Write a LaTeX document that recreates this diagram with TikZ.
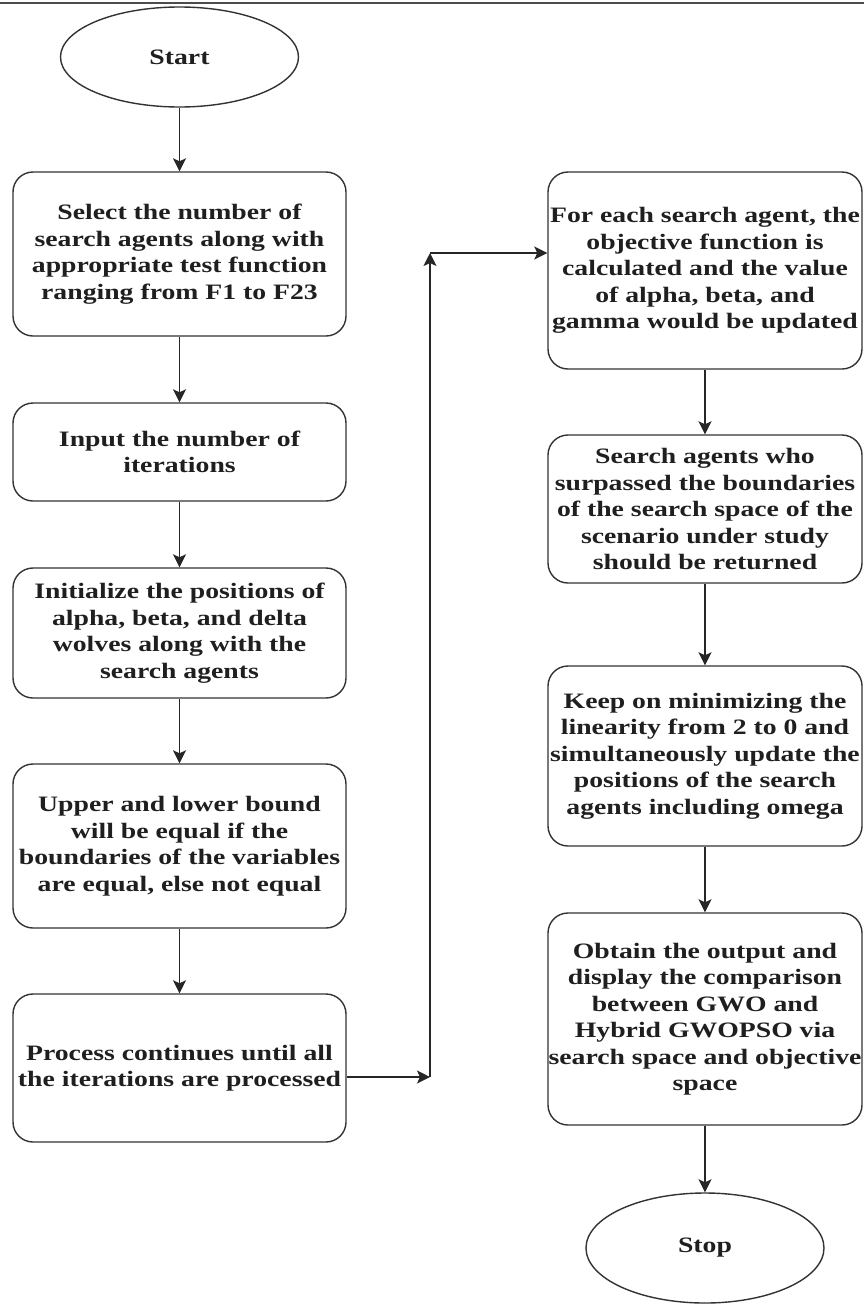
\documentclass[tikz,border=0pt]{standalone}
\usepackage{fontspec}
\setmainfont[FakeStretch=1.26]{Liberation Serif}
\usetikzlibrary{shapes.geometric,arrows.meta}
\begin{document}
\begin{tikzpicture}[x=1pt,y=-1pt,
    every node/.style={font=\fontsize{22}{26.5}\selectfont\bfseries,
      text=black!88, align=center, inner sep=0pt},
    stepbox/.style={draw=black!80, line width=1.4pt, rounded corners=20pt},
    leftbox/.style={stepbox, minimum width=333pt},
    rightbox/.style={stepbox, minimum width=314pt},
    terminal/.style={draw=black!80, line width=1.4pt, ellipse,
      minimum width=238pt, minimum height=#1},
    flow/.style={line width=1.6pt, black!85,
      -{Stealth[length=13pt,width=13pt,inset=3pt]}}]
  \useasboundingbox (0,0) rectangle (864,1304);
  \draw[line width=2pt, black!70] (0,3) -- (864,3);
  \draw
    (179.5,57) node[terminal=100pt] (start){Start}
    (179.5,254) node[leftbox, minimum height=164pt] (1){Select the number of\\
      search agents along with\\ appropriate test function\\ ranging from F1 to F23}
    (179.5,452) node[leftbox, minimum height=98pt] (2){Input the number of\\ iterations}
    (179.5,633) node[leftbox, minimum height=130pt] (3){Initialize the positions of\\
      alpha, beta, and delta\\ wolves along with the\\ search agents}
    (179.5,846) node[leftbox, minimum height=164pt] (4){Upper and lower bound\\
      will be equal if the\\ boundaries of the variables\\ are equal, else not equal}
    (179.5,1068) node[leftbox, minimum height=148pt] (5){Process continues until all\\
      the iterations are processed}
    (705,270.5) node[rightbox, minimum height=197pt] (6){For each search agent, the\\
      objective function is\\ calculated and the value\\ of alpha, beta, and\\
      gamma would be updated}
    (705,509) node[rightbox, minimum height=148pt] (7){Search agents who\\
      surpassed the boundaries\\ of the search space of the\\ scenario under study\\
      should be returned}
    (705,756) node[rightbox, minimum height=180pt] (8){Keep on minimizing the\\
      linearity from 2 to 0 and\\ simultaneously update the\\ positions of the search\\
      agents including omega}
    (705,1019) node[rightbox, minimum height=212pt] (9){Obtain the output and\\
      display the comparison\\ between GWO and\\ Hybrid GWOPSO via\\
      search space and objective\\ space}
    (705,1248) node[terminal=110pt] (stop){Stop};
  \coordinate (low) at (430,1077);
  \coordinate (high) at (430,253);
  \begin{scope}[flow]
    \draw (start) to (1);
    \draw (1) to (2);
    \draw (2) to (3);
    \draw (3) to (4);
    \draw (4) to (5);
    \draw (low -| 5.east) to (low);
    \draw (low) to (high);
    \draw (high) to (high -| 6.west);
    \draw (6) to (7);
    \draw (7) to (8);
    \draw (8) to (9);
    \draw (9) to (stop);
  \end{scope}
\end{tikzpicture}
\end{document}
